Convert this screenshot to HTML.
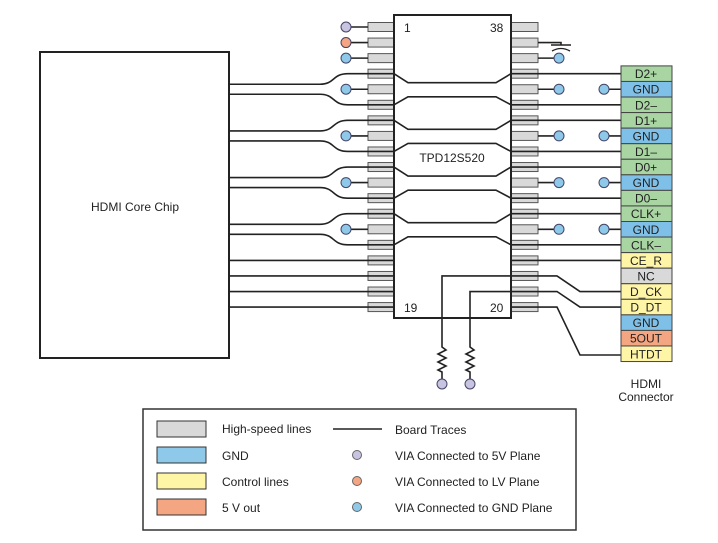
<!DOCTYPE html>
<html><head><meta charset="utf-8"><style>
html,body{margin:0;padding:0;background:#fff;}
svg{display:block;font-family:"Liberation Sans",sans-serif;}
</style></head><body>
<svg id="s" width="718" height="543" viewBox="0 0 718 543" xmlns="http://www.w3.org/2000/svg">
<rect x="40" y="52" width="189" height="306" fill="#fff" stroke="#222" stroke-width="2"/>
<text x="135" y="211" font-size="12" text-anchor="middle" fill="#222">HDMI Core Chip</text>
<g id="g"></g>
<rect x="394" y="15" width="117" height="303" fill="none" stroke="#222" stroke-width="2"/>
<text x="404" y="32" font-size="12" fill="#222">1</text>
<text x="490" y="32" font-size="12" fill="#222">38</text>
<text x="404" y="312" font-size="12" fill="#222">19</text>
<text x="490" y="312" font-size="12" fill="#222">20</text>
<text x="452" y="162" font-size="12" text-anchor="middle" fill="#222">TPD12S520</text>
<g id="c" font-size="12" text-anchor="middle" fill="#222"></g>
<text x="646" y="388" font-size="12" text-anchor="middle" fill="#222">HDMI</text>
<text x="646" y="401" font-size="12" text-anchor="middle" fill="#222">Connector</text>
<rect x="143" y="409" width="433" height="121" fill="none" stroke="#333" stroke-width="1.5"/>
<rect x="157" y="421" width="49" height="16" fill="#d9d9d9" stroke="#333"/>
<rect x="157" y="447" width="49" height="16" fill="#8ec9ea" stroke="#333"/>
<rect x="157" y="473" width="49" height="16" fill="#fff5a6" stroke="#333"/>
<rect x="157" y="499" width="49" height="16" fill="#f4a582" stroke="#333"/>
<g font-size="12" fill="#222">
<text x="222" y="433">High-speed lines</text>
<text x="222" y="460">GND</text>
<text x="222" y="486">Control lines</text>
<text x="222" y="512">5 V out</text>
<text x="395" y="434">Board Traces</text>
<text x="395" y="460">VIA Connected to 5V Plane</text>
<text x="395" y="486">VIA Connected to LV Plane</text>
<text x="395" y="512">VIA Connected to GND Plane</text>
</g>
<line x1="333" y1="429" x2="382" y2="429" stroke="#222" stroke-width="1.5"/>
<circle cx="357" cy="455" r="4.5" fill="#c8c3e0" stroke="#666"/>
<circle cx="357" cy="481" r="4.5" fill="#f4a582" stroke="#666"/>
<circle cx="357" cy="507" r="4.5" fill="#8ec9ea" stroke="#666"/>
</svg>
<script>
var g=document.getElementById('g'),NS="http://www.w3.org/2000/svg";
function el(t,a){var e=document.createElementNS(NS,t);for(var k in a)e.setAttribute(k,a[k]);g.appendChild(e);return e;}
function y(i){return 27+i*15.56;}
var L='#222';
function pl(pts){el('polyline',{points:pts.map(function(p){return p.join(',')}).join(' '),fill:'none',stroke:L,'stroke-width':1.6});}
function via(x,yy,c){el('circle',{cx:x,cy:yy,r:5,fill:c,stroke:'#446'});}
// pins
for(var i=0;i<19;i++){el('rect',{x:368,y:y(i)-4.5,width:26,height:9,fill:'#d9d9d9',stroke:'#555'});el('rect',{x:511,y:y(i)-4.5,width:27,height:9,fill:'#d9d9d9',stroke:'#555'});}
// left vias
var cols=['#c8c3e0','#f4a582','#8ec9ea'];
[0,1,2,4,7,10,13].forEach(function(r,k){pl([[346,y(r)],[368,y(r)]]);via(346,y(r),k<3?cols[k]:'#8ec9ea');});
// diff pairs
[[3,5],[6,8],[9,11],[12,14]].forEach(function(p){var a=y(p[0]),b=y(p[1]),c=(a+b)/2;
el('path',{d:'M229 '+(c-5)+' L320 '+(c-5)+' C335 '+(c-5)+' 332 '+a+' 348 '+a+' L394 '+a,fill:'none',stroke:L,'stroke-width':1.6});
el('path',{d:'M229 '+(c+5)+' L320 '+(c+5)+' C335 '+(c+5)+' 332 '+b+' 348 '+b+' L394 '+b,fill:'none',stroke:L,'stroke-width':1.6});
pl([[394,a],[408,a+9],[496,a+9],[511,a]]);pl([[394,b],[408,b-8],[496,b-8],[511,b]]);
pl([[511,a],[621,a]]);pl([[511,b],[621,b]]);});
[15,16,17,18].forEach(function(r){pl([[229,y(r)],[394,y(r)]]);});
// right vias
[2,4,7,10,13].forEach(function(r){pl([[538,y(r)],[559,y(r)]]);via(559,y(r),'#8ec9ea');});
[4,7,10,13].forEach(function(r){pl([[604,y(r)],[621,y(r)]]);via(604,y(r),'#8ec9ea');});
// row1 ground
pl([[538,y(1)],[561,y(1)],[561,45]]);pl([[551,45],[571,45]]);
el('path',{d:'M552 51 Q561 46 570 51',fill:'none',stroke:L,'stroke-width':1.3});
// control
pl([[511,y(15)],[621,y(15)]]);
pl([[511,y(16)],[557,y(16)],[580,y(17)],[621,y(17)]]);
pl([[511,y(17)],[557,y(17)],[580,y(18)],[621,y(18)]]);
pl([[511,y(18)],[557,y(18)],[580,355],[621,355]]);
// resistors
[[442,16],[470,17]].forEach(function(q){var x=q[0];pl([[511,y(q[1])],[x,y(q[1])],[x,347],[x+4,350],[x-4,354],[x+4,358],[x-4,362],[x+4,366],[x-4,370],[x,372],[x,379]]);via(x,384,'#c8c3e0');});
// connector
var names=['D2+','GND','D2–','D1+','GND','D1–','D0+','GND','D0–','CLK+','GND','CLK–','CE_R','NC','D_CK','D_DT','GND','5OUT','HTDT'];
var cc={G:'#a8d5a2',B:'#7fc0e8',Y:'#fff5a6',N:'#d9d9d9',O:'#f4a582'};
var ct='GBGGBGGBGGBGYNYYBOY';
var cg=document.getElementById('c');
for(var k=0;k<19;k++){var yy=y(k+3);var r=document.createElementNS(NS,'rect');
r.setAttribute('x',621);r.setAttribute('y',yy-7.78);r.setAttribute('width',51);r.setAttribute('height',15.56);r.setAttribute('fill',cc[ct[k]]);r.setAttribute('stroke','#444');g.appendChild(r);
var t=document.createElementNS(NS,'text');t.setAttribute('x',646);t.setAttribute('y',yy+4.5);t.textContent=names[k];cg.appendChild(t);}
</script>
</body></html>
